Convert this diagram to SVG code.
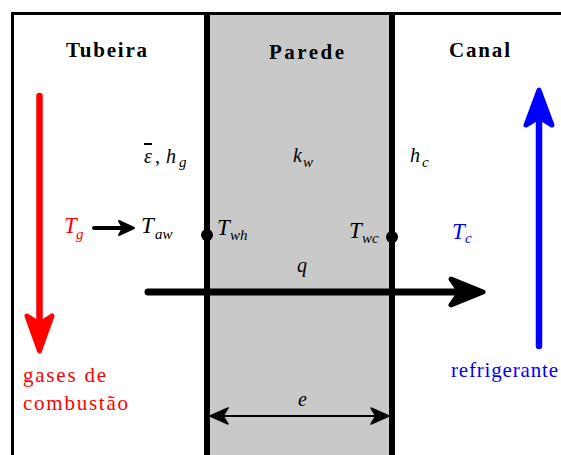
<svg xmlns="http://www.w3.org/2000/svg" width="561" height="455" viewBox="0 0 561 455">
<style>
text{font-family:"Liberation Serif","DejaVu Serif",serif}
.hdr{font-weight:bold;font-size:21px;fill:#000}
.lbl{font-size:21px}
.m{font-style:italic;font-size:23px;fill:#000}
.s{font-size:15px}
.m2{font-style:italic;font-size:20px;fill:#000}
</style>
<defs>
<marker id="dimHead" viewBox="0 0 20 18" refX="19" refY="9" markerWidth="20" markerHeight="18" markerUnits="userSpaceOnUse" orient="auto-start-reverse">
<path d="M19,9 L1,1 L6,9 L1,17 Z" fill="#000" stroke="#000" stroke-width="1.5" stroke-linejoin="round"/>
</marker>
</defs>
<rect x="0" y="0" width="561" height="455" fill="#fff"/>
<g id="wall">
<rect x="207" y="13" width="185" height="442" fill="#c9c9c9"/>
</g>
<g id="frame" fill="none" stroke="#000">
<path d="M12.5,455 V13.5 H561" stroke-width="3"/>
<line x1="207" y1="13" x2="207" y2="455" stroke-width="6"/>
<line x1="392" y1="13" x2="392" y2="455" stroke-width="6"/>
</g>
<g id="tubeira"><text class="hdr" x="66" y="57" textLength="81" lengthAdjust="spacing">Tubeira</text></g>
<g id="parede"><text class="hdr" x="269" y="59" textLength="75" lengthAdjust="spacing">Parede</text></g>
<g id="canal"><text class="hdr" x="449" y="57" textLength="61" lengthAdjust="spacing">Canal</text></g>
<g id="connectors">
<g id="gas-flow" fill="#f00" stroke="#f00">
<line x1="39.5" y1="96" x2="39.5" y2="330" stroke-width="6.5" stroke-linecap="round"/>
<path d="M39.5,351 L27,316 L39.5,324 L52,316 Z" stroke-width="5" stroke-linejoin="round"/>
</g>
<g id="coolant-flow" fill="#00f" stroke="#00f">
<line x1="539" y1="110" x2="539" y2="346" stroke-width="6.5" stroke-linecap="round"/>
<path d="M539,90 L526,125 L539,117 L552,125 Z" stroke-width="5" stroke-linejoin="round"/>
</g>
<g id="q-arrow" fill="#000" stroke="#000">
<line x1="148" y1="292" x2="470" y2="292" stroke-width="7" stroke-linecap="round"/>
<path d="M483,292 L451,279 L460,292 L451,305 Z" stroke-width="5" stroke-linejoin="round"/>
</g>
<g id="tg-arrow" fill="#000" stroke="#000">
<line x1="94" y1="228" x2="124" y2="228" stroke-width="4" stroke-linecap="round"/>
<path d="M134,228 L119,221 L123,228 L119,235 Z" stroke-width="2" stroke-linejoin="round"/>
</g>
<line id="dim-e" x1="210" y1="416" x2="389" y2="416" stroke="#000" stroke-width="2" marker-start="url(#dimHead)" marker-end="url(#dimHead)"/>
</g>
<g id="dots" fill="#000">
<circle cx="207" cy="235" r="6"/>
<circle cx="392" cy="237" r="6"/>
</g>
<g id="labels">
<text class="m" style="fill:#f00"><tspan x="64" y="233">T</tspan><tspan class="s" x="76" y="239">g</tspan></text>
<text class="m"><tspan x="141" y="233">T</tspan><tspan class="s" x="155" y="239">aw</tspan></text>
<text class="m"><tspan x="217" y="235">T</tspan><tspan class="s" x="230" y="240">wh</tspan></text>
<text class="m"><tspan x="349" y="238">T</tspan><tspan class="s" x="362" y="243">wc</tspan></text>
<text class="m" style="fill:#00f"><tspan x="452" y="239">T</tspan><tspan class="s" x="465" y="243">c</tspan></text>
<text class="m2"><tspan x="144" y="163" style="text-decoration:overline">ε</tspan><tspan x="155" y="163">,</tspan><tspan x="166" y="163">h</tspan><tspan class="s" x="179" y="167">g</tspan></text>
<text class="m2"><tspan x="293" y="162">k</tspan><tspan class="s" x="303" y="167">w</tspan></text>
<text class="m2"><tspan x="410" y="162">h</tspan><tspan class="s" x="422" y="167">c</tspan></text>
<text class="m2" x="297" y="272">q</text>
<text class="m2" x="298" y="406">e</text>
<text class="lbl" fill="#f00"><tspan x="23" y="382" textLength="83" lengthAdjust="spacing">gases de</tspan><tspan x="23" y="410" textLength="105" lengthAdjust="spacing">combustão</tspan></text>
<text class="lbl" fill="#00f" x="451" y="377" textLength="107" lengthAdjust="spacing">refrigerante</text>
</g>
</svg>
